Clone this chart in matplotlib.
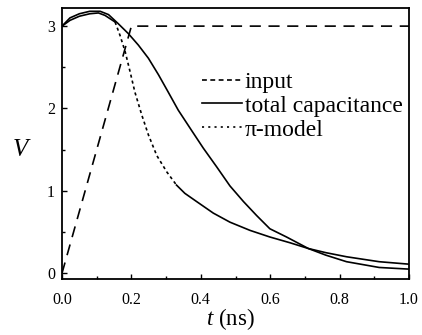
import matplotlib
matplotlib.use("Agg")
from matplotlib import pyplot as plt
from matplotlib.ticker import MultipleLocator
import numpy as np

plt.rcParams['font.family'] = ['Liberation Serif', 'DejaVu Serif']
plt.rcParams['mathtext.fontset'] = 'custom'
plt.rcParams['mathtext.it'] = 'Liberation Serif:italic'
plt.rcParams['mathtext.rm'] = 'Liberation Serif'
plt.rcParams['lines.scale_dashes'] = False

# input ramp
t_in = [0.0, 0.2, 1.0]
v_in = [0.0, 3.0, 3.0]

# total capacitance model
t_tot = [0.0, 0.023, 0.05, 0.08, 0.11, 0.134, 0.162, 0.191, 0.22, 0.249, 0.278, 0.306,
         0.335, 0.374, 0.407, 0.446, 0.484, 0.523, 0.561, 0.599, 0.647, 0.71, 0.76,
         0.82, 0.914, 1.0]
v_tot = [3.0, 3.10, 3.15, 3.18, 3.18, 3.14, 3.03, 2.91, 2.77, 2.61, 2.41, 2.20,
         1.98, 1.73, 1.52, 1.29, 1.06, 0.87, 0.70, 0.54, 0.44, 0.30, 0.22,
         0.14, 0.07, 0.05]

# pi-model
t_pi = [0.0, 0.023, 0.05, 0.08, 0.105, 0.124, 0.153, 0.167, 0.182, 0.196, 0.21, 0.23,
        0.249, 0.273, 0.302, 0.33, 0.354, 0.388, 0.436, 0.484, 0.542, 0.599, 0.657,
        0.71, 0.76, 0.82, 0.914, 1.0]
v_pi = [3.0, 3.07, 3.12, 3.15, 3.16, 3.13, 3.05, 2.89, 2.69, 2.45, 2.20, 1.92,
        1.68, 1.43, 1.23, 1.07, 0.97, 0.87, 0.73, 0.62, 0.52, 0.44, 0.37,
        0.30, 0.25, 0.20, 0.14, 0.11]

fig = plt.figure(figsize=(4.22, 3.35), dpi=100)
ax = fig.add_axes([62/422, 1-279/335, 347/422, 271/335])

lw = 1.2
ax.plot(t_in, v_in, color='k', lw=lw, dashes=(8, 5.5))
ax.plot(t_tot, v_tot, color='k', lw=lw)
# pi-model: dashed only through the steep fall, as in the original rendering
t_pi = np.array(t_pi); v_pi = np.array(v_pi)
a = t_pi <= 0.153
b = (t_pi >= 0.153) & (t_pi <= 0.33)
c = t_pi >= 0.33
ax.plot(t_pi[a], v_pi[a], color='k', lw=lw)
ax.plot(t_pi[b], v_pi[b], color='k', lw=lw, dashes=(2.2, 2.2))
ax.plot(t_pi[c], v_pi[c], color='k', lw=lw)

# legend handles
h1, = ax.plot([], [], color='k', lw=lw, dashes=(3.5, 2.5))
h2, = ax.plot([], [], color='k', lw=lw)
h3, = ax.plot([], [], color='k', lw=lw, dashes=(1.5, 3))
ax.legend([h1, h2, h3], ['input', 'total capacitance', 'π-model'],
          loc='upper left', bbox_to_anchor=(0.37, 0.81), frameon=False,
          fontsize=17, borderpad=0, handlelength=1.7, handletextpad=0.1,
          labelspacing=0.1)

ax.set_xlim(0, 1.0)
ax.set_ylim(-0.07, 3.22)
ax.set_xticks([0.0, 0.2, 0.4, 0.6, 0.8, 1.0])
ax.set_xticklabels(['0.0', '0.2', '0.4', '0.6', '0.8', '1.0'])
ax.set_yticks([0, 1, 2, 3])
ax.xaxis.set_minor_locator(MultipleLocator(0.1))
ax.yaxis.set_minor_locator(MultipleLocator(0.5))
ax.tick_params(which='both', direction='in', top=False, right=False, width=1.0, labelsize=11.5)
ax.tick_params(axis='x', which='major', length=3.5, pad=9)
ax.tick_params(axis='y', which='major', length=3.5, pad=5)
ax.tick_params(which='minor', length=2.2)
for s in ax.spines.values():
    s.set_linewidth(1.3)

fig.text(22/422, 1-150/335, '$V$', fontsize=18, ha='center', va='center')
fig.text(230/422, 1-319/335, '$t$ (ns)', fontsize=16.5, ha='center', va='center')

fig.savefig('out.png', dpi=100)
